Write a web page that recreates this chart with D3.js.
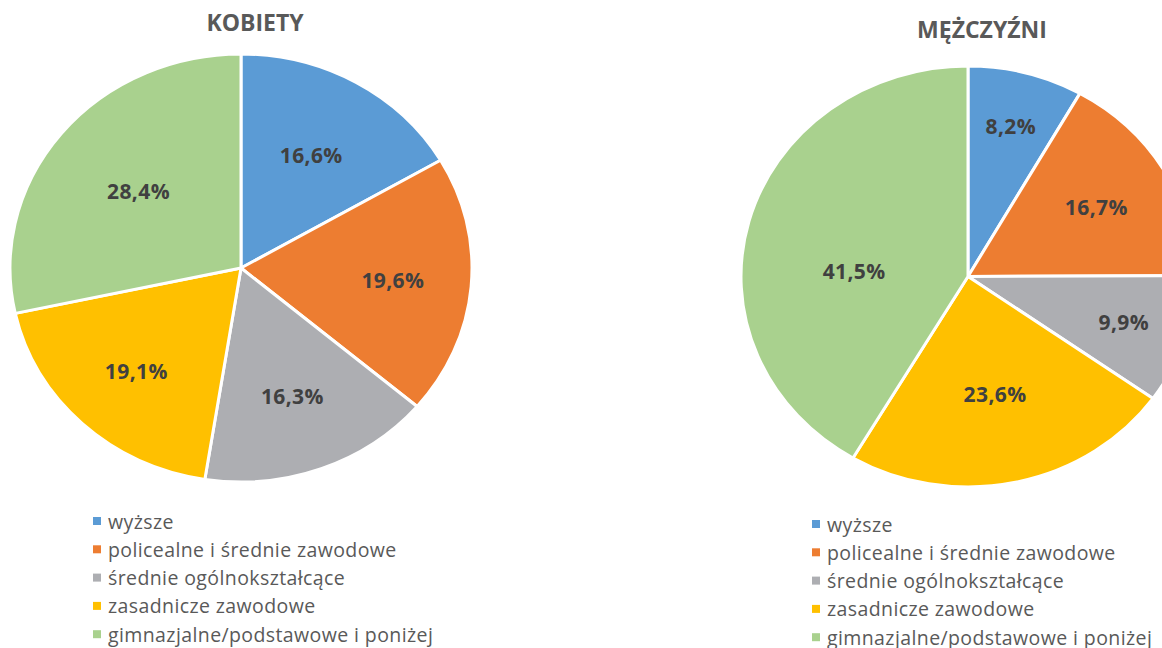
<!DOCTYPE html>
<html><head><meta charset="utf-8">
<script src="https://cdn.jsdelivr.net/npm/d3@7"></script>
<style>html,body{margin:0;padding:0;background:#fff;}svg{display:block;}</style>
</head><body>
<svg id="c" width="1162" height="648"></svg>
<script>
const categories = ["wyższe","policealne i średnie zawodowe","średnie ogólnokształcące","zasadnicze zawodowe","gimnazjalne/podstawowe i poniżej"];
const kobietyValues = [16.6, 19.6, 16.3, 19.1, 28.4];
const mezczyzniValues = [8.2, 16.7, 9.9, 23.6, 41.5];
const valueLabelsK = ["16,6%","19,6%","16,3%","19,1%","28,4%"];
const valueLabelsM = ["8,2%","16,7%","9,9%","23,6%","41,5%"];
const colors = ["#5B9BD5","#ED7D31","#ADAEB2","#FFC000","#A9D18E"];

const svg = d3.select("#c");
const color = d3.scaleOrdinal().domain(categories).range(colors);

const charts = [
  {title:"KOBIETY", values:kobietyValues, labels:valueLabelsK, cx:241, cy:268, rx:231, ry:214,
   titleX:255, titleY:31, labelF:[0.61,0.66,0.64,0.66,0.57], legX:93, legY:521},
  {title:"MĘŻCZYŹNI", values:mezczyzniValues, labels:valueLabelsM, cx:968, cy:276.5, rx:227, ry:210.5,
   titleX:982, titleY:38, labelF:[0.74,0.655,0.72,0.57,0.52], legX:812, legY:524}
];

const pie = d3.pie().sort(null).value(d => d.v);

charts.forEach((ch, ci) => {
  const data = categories.map((c,i) => ({c, v:ch.values[i], l:ch.labels[i], f:ch.labelF[i]}));
  const arcs = pie(data);
  const arc = d3.arc().innerRadius(0).outerRadius(ch.rx);
  const g = svg.append("g").attr("transform", `translate(${ch.cx},${ch.cy}) scale(1,${ch.ry/ch.rx})`);
  g.selectAll("path").data(arcs).join("path")
    .attr("d", arc)
    .attr("fill", d => color(d.data.c))
    .attr("stroke", "#fff")
    .attr("stroke-width", 3)
    .attr("vector-effect", "non-scaling-stroke")
    .attr("stroke-linejoin", "round");

  svg.append("g").selectAll("text").data(arcs).join("text")
    .attr("x", d => { const a=(d.startAngle+d.endAngle)/2; return ch.cx + d.data.f*ch.rx*Math.sin(a); })
    .attr("y", d => { const a=(d.startAngle+d.endAngle)/2; let y = ch.cy - d.data.f*ch.ry*Math.cos(a);
        if (ci===1 && d.index===4) y = ch.cy - 6; return y; })
    .attr("text-anchor","middle")
    .attr("dominant-baseline","central")
    .attr("font-family","'Open Sans', sans-serif")
    .attr("font-weight","bold")
    .attr("font-size",21)
    .attr("letter-spacing",0.4)
    .attr("fill","#404040")
    .text(d => d.data.l);

  svg.append("text")
    .attr("x", ch.titleX).attr("y", ch.titleY)
    .attr("text-anchor","middle")
    .attr("font-family","'Open Sans', sans-serif")
    .attr("font-weight","bold")
    .attr("font-size",23)
    .attr("fill","#595959")
    .text(ch.title);

  const leg = svg.append("g");
  const items = leg.selectAll("g").data(categories).join("g")
    .attr("transform", (d,i) => `translate(${ch.legX},${ch.legY + i*28.3})`);
  items.append("rect").attr("x",0).attr("y",-4).attr("width",8).attr("height",8).attr("fill", d => color(d));
  items.append("text").attr("x",15).attr("y",0)
    .attr("dominant-baseline","central")
    .attr("font-family","'Open Sans', sans-serif")
    .attr("font-size",19.5)
    .attr("letter-spacing",0.4)
    .attr("fill","#595959")
    .text(d => d);
});
</script>
</body></html>
